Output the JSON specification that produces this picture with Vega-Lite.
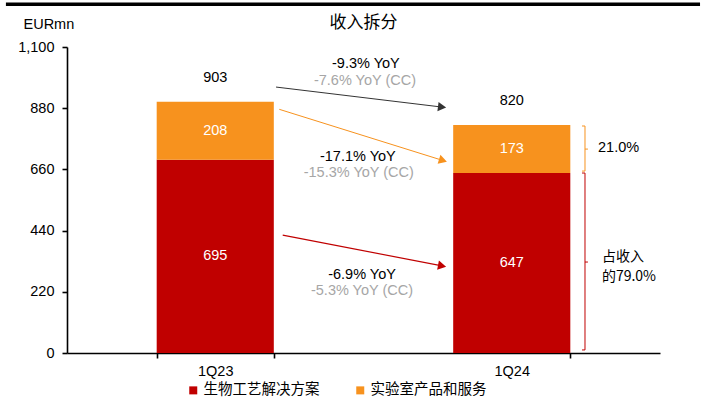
{
  "$schema": "https://vega.github.io/schema/vega-lite/v6.json",
  "width": 593,
  "height": 306,
  "autosize": {"type": "none"},
  "padding": {"left": 67, "top": 47, "right": 45, "bottom": 54},
  "title": {"text": "收入拆分", "font": "Noto Sans CJK SC", "fontSize": 17, "fontWeight": "normal", "color": "black", "anchor": "middle", "frame": "group", "offset": -30},
  "config": {
    "view": {"stroke": null},
    "font": "Liberation Sans",
    "axis": {"domainColor": "#000000", "domainWidth": 1.6, "tickColor": "#000000", "tickWidth": 1.6, "tickSize": 5, "labelColor": "#000000", "labelFontSize": 14.5, "labelFont": "Liberation Sans", "grid": false}
  },
  "datasets": {
    "main": [
      {"quarter": "1Q23", "segment": "生物工艺解决方案", "value": 695},
      {"quarter": "1Q23", "segment": "实验室产品和服务", "value": 208},
      {"quarter": "1Q24", "segment": "生物工艺解决方案", "value": 647},
      {"quarter": "1Q24", "segment": "实验室产品和服务", "value": 173}
    ],
    "arrows": [
      {"arrow": "total", "x1": 0.705, "y1": 956, "x2": 1.265, "y2": 884},
      {"arrow": "lab", "x1": 0.716, "y1": 876, "x2": 1.268, "y2": 692},
      {"arrow": "bio", "x1": 0.7275, "y1": 424, "x2": 1.265, "y2": 313}
    ],
    "notes": [
      {"label": "-9.3% YoY", "tone": "main", "x": 1.008, "y": 1039},
      {"label": "-7.6% YoY (CC)", "tone": "cc", "x": 1.005, "y": 979},
      {"label": "-17.1% YoY", "tone": "main", "x": 0.981, "y": 706},
      {"label": "-15.3% YoY (CC)", "tone": "cc", "x": 0.984, "y": 647},
      {"label": "-6.9% YoY", "tone": "main", "x": 0.995, "y": 280},
      {"label": "-5.3% YoY (CC)", "tone": "cc", "x": 0.995, "y": 223}
    ],
    "brackets": [
      {"b": "lab", "x1": 1.747, "y1": 816, "x2": 1.747, "y2": 654},
      {"b": "lab", "x1": 1.737, "y1": 816, "x2": 1.747, "y2": 816},
      {"b": "lab", "x1": 1.737, "y1": 654, "x2": 1.747, "y2": 654},
      {"b": "lab", "x1": 1.747, "y1": 733, "x2": 1.757, "y2": 733},
      {"b": "bio", "x1": 1.747, "y1": 647, "x2": 1.747, "y2": 11},
      {"b": "bio", "x1": 1.737, "y1": 647, "x2": 1.747, "y2": 647},
      {"b": "bio", "x1": 1.737, "y1": 11, "x2": 1.747, "y2": 11},
      {"b": "bio", "x1": 1.747, "y1": 327, "x2": 1.757, "y2": 327}
    ],
    "shares": [
      {"label": "21.0%", "font": "latin", "x": 1.791, "y": 737},
      {"label": "占收入", "font": "cjk", "x": 1.804, "y": 346},
      {"label": "的79.0%", "font": "cjk", "x": 1.804, "y": 274}
    ],
    "topline": [
      {"x1": -0.206, "x2": 2.135, "y": 1254}
    ]
  },
  "resolve": {"scale": {"x": "independent", "y": "independent"}},
  "layer": [
    {
      "data": {"name": "main"},
      "layer": [
        {
          "mark": {"type": "bar"},
          "encoding": {
            "x": {
              "field": "quarter", "type": "nominal",
              "scale": {"paddingInner": 0.605, "paddingOuter": 0.3025},
              "axis": {"title": null, "labelAngle": 0, "tickBand": "extent", "labelPadding": 6, "domainColor": "#000000", "tickColor": "#000000", "domainWidth": 1.6, "tickWidth": 1.6}
            },
            "y": {
              "field": "value", "type": "quantitative", "stack": "zero",
              "scale": {"domain": [0, 1100], "nice": false},
              "axis": {"values": [0, 220, 440, 660, 880, 1100], "format": ",.0f", "labelPadding": 8, "domainColor": "#000000", "tickColor": "#000000", "domainWidth": 1.6, "tickWidth": 1.6, "title": "EURmn", "titleAngle": 0, "titleX": -44, "titleY": -23, "titleAlign": "left", "titleBaseline": "middle", "titleFontSize": 14.5, "titleFontWeight": "normal", "titleColor": "black", "titleFont": "Liberation Sans"}
            },
            "color": {
              "field": "segment", "type": "nominal",
              "scale": {"domain": ["生物工艺解决方案", "实验室产品和服务"], "range": ["#C00000", "#F7921E"]},
              "legend": {"title": null, "orient": "none", "legendX": 119, "legendY": 336, "direction": "horizontal", "symbolType": "square", "symbolSize": 64, "symbolStrokeWidth": 0, "labelFont": "Noto Sans CJK SC", "labelFontSize": 14.5, "labelColor": "black", "labelOffset": 3, "columnPadding": 33}
            },
            "order": {"field": "segment", "sort": "descending"}
          }
        },
        {
          "transform": [
            {"stack": "value", "groupby": ["quarter"], "sort": [{"field": "segment", "order": "descending"}], "as": ["y0", "y1"]},
            {"fold": ["y0", "y1"], "as": ["k", "yv"]},
            {"aggregate": [{"op": "mean", "field": "yv", "as": "ymid"}], "groupby": ["quarter", "segment", "value"]}
          ],
          "mark": {"type": "text", "color": "white", "fontSize": 14.5, "baseline": "middle"},
          "encoding": {
            "x": {"field": "quarter", "type": "nominal", "axis": {"title": null, "labelAngle": 0, "tickBand": "extent", "labelPadding": 6, "domainColor": "#000000", "tickColor": "#000000", "domainWidth": 1.6, "tickWidth": 1.6}},
            "y": {"field": "ymid", "type": "quantitative", "scale": {"domain": [0, 1100], "nice": false}, "axis": {"values": [0, 220, 440, 660, 880, 1100], "format": ",.0f", "labelPadding": 8, "domainColor": "#000000", "tickColor": "#000000", "domainWidth": 1.6, "tickWidth": 1.6, "title": "EURmn", "titleAngle": 0, "titleX": -44, "titleY": -23, "titleAlign": "left", "titleBaseline": "middle", "titleFontSize": 14.5, "titleFontWeight": "normal", "titleColor": "black", "titleFont": "Liberation Sans"}},
            "text": {"field": "value", "type": "quantitative"}
          }
        },
        {
          "transform": [{"aggregate": [{"op": "sum", "field": "value", "as": "total"}], "groupby": ["quarter"]}],
          "mark": {"type": "text", "color": "black", "fontSize": 14.5, "baseline": "middle", "dy": -24},
          "encoding": {
            "x": {"field": "quarter", "type": "nominal", "axis": {"title": null, "labelAngle": 0, "tickBand": "extent", "labelPadding": 6, "domainColor": "#000000", "tickColor": "#000000", "domainWidth": 1.6, "tickWidth": 1.6}},
            "y": {"field": "total", "type": "quantitative", "scale": {"domain": [0, 1100], "nice": false}, "axis": {"values": [0, 220, 440, 660, 880, 1100], "format": ",.0f", "labelPadding": 8, "domainColor": "#000000", "tickColor": "#000000", "domainWidth": 1.6, "tickWidth": 1.6, "title": "EURmn", "titleAngle": 0, "titleX": -44, "titleY": -23, "titleAlign": "left", "titleBaseline": "middle", "titleFontSize": 14.5, "titleFontWeight": "normal", "titleColor": "black", "titleFont": "Liberation Sans"}},
            "text": {"field": "total", "type": "quantitative"}
          }
        }
      ]
    },
    {
      "layer": [
        {
          "data": {"name": "topline"},
          "mark": {"type": "rule", "color": "black", "strokeWidth": 3.5},
          "encoding": {
            "x": {"field": "x1", "type": "quantitative", "scale": {"domain": [0, 2], "nice": false, "zero": false}, "axis": null},
            "x2": {"field": "x2"},
            "y": {"field": "y", "type": "quantitative", "scale": {"domain": [0, 1100], "nice": false}, "axis": null}
          }
        },
        {
          "data": {"name": "arrows"},
          "transform": [{"filter": "datum.arrow === 'total'"}],
          "mark": {"type": "rule", "color": "#333333", "strokeWidth": 1},
          "encoding": {
            "x": {"field": "x1", "type": "quantitative", "scale": {"domain": [0, 2], "nice": false, "zero": false}, "axis": null},
            "y": {"field": "y1", "type": "quantitative", "scale": {"domain": [0, 1100], "nice": false}, "axis": null},
            "x2": {"field": "x2"},
            "y2": {"field": "y2"}
          }
        },
        {
          "data": {"name": "arrows"},
          "transform": [{"filter": "datum.arrow === 'total'"}],
          "mark": {"type": "point", "shape": "triangle-right", "filled": true, "color": "#333333", "opacity": 1, "size": 90, "angle": 7},
          "encoding": {
            "x": {"field": "x2", "type": "quantitative", "scale": {"domain": [0, 2], "nice": false, "zero": false}, "axis": null},
            "y": {"field": "y2", "type": "quantitative", "scale": {"domain": [0, 1100], "nice": false}, "axis": null}
          }
        },
        {
          "data": {"name": "arrows"},
          "transform": [{"filter": "datum.arrow === 'lab'"}],
          "mark": {"type": "rule", "color": "#F7921E", "strokeWidth": 1},
          "encoding": {
            "x": {"field": "x1", "type": "quantitative", "scale": {"domain": [0, 2], "nice": false, "zero": false}, "axis": null},
            "y": {"field": "y1", "type": "quantitative", "scale": {"domain": [0, 1100], "nice": false}, "axis": null},
            "x2": {"field": "x2"},
            "y2": {"field": "y2"}
          }
        },
        {
          "data": {"name": "arrows"},
          "transform": [{"filter": "datum.arrow === 'lab'"}],
          "mark": {"type": "point", "shape": "triangle-right", "filled": true, "color": "#F7921E", "opacity": 1, "size": 90, "angle": 17},
          "encoding": {
            "x": {"field": "x2", "type": "quantitative", "scale": {"domain": [0, 2], "nice": false, "zero": false}, "axis": null},
            "y": {"field": "y2", "type": "quantitative", "scale": {"domain": [0, 1100], "nice": false}, "axis": null}
          }
        },
        {
          "data": {"name": "arrows"},
          "transform": [{"filter": "datum.arrow === 'bio'"}],
          "mark": {"type": "rule", "color": "#C00000", "strokeWidth": 1.2},
          "encoding": {
            "x": {"field": "x1", "type": "quantitative", "scale": {"domain": [0, 2], "nice": false, "zero": false}, "axis": null},
            "y": {"field": "y1", "type": "quantitative", "scale": {"domain": [0, 1100], "nice": false}, "axis": null},
            "x2": {"field": "x2"},
            "y2": {"field": "y2"}
          }
        },
        {
          "data": {"name": "arrows"},
          "transform": [{"filter": "datum.arrow === 'bio'"}],
          "mark": {"type": "point", "shape": "triangle-right", "filled": true, "color": "#C00000", "opacity": 1, "size": 90, "angle": 11},
          "encoding": {
            "x": {"field": "x2", "type": "quantitative", "scale": {"domain": [0, 2], "nice": false, "zero": false}, "axis": null},
            "y": {"field": "y2", "type": "quantitative", "scale": {"domain": [0, 1100], "nice": false}, "axis": null}
          }
        },
        {
          "data": {"name": "notes"},
          "transform": [{"filter": "datum.tone === 'main'"}],
          "mark": {"type": "text", "color": "black", "fontSize": 14.5, "baseline": "middle"},
          "encoding": {
            "x": {"field": "x", "type": "quantitative", "scale": {"domain": [0, 2], "nice": false, "zero": false}, "axis": null},
            "y": {"field": "y", "type": "quantitative", "scale": {"domain": [0, 1100], "nice": false}, "axis": null},
            "text": {"field": "label", "type": "nominal"}
          }
        },
        {
          "data": {"name": "notes"},
          "transform": [{"filter": "datum.tone === 'cc'"}],
          "mark": {"type": "text", "color": "#A6A6A6", "fontSize": 14.5, "baseline": "middle"},
          "encoding": {
            "x": {"field": "x", "type": "quantitative", "scale": {"domain": [0, 2], "nice": false, "zero": false}, "axis": null},
            "y": {"field": "y", "type": "quantitative", "scale": {"domain": [0, 1100], "nice": false}, "axis": null},
            "text": {"field": "label", "type": "nominal"}
          }
        },
        {
          "data": {"name": "brackets"},
          "transform": [{"filter": "datum.b === 'lab'"}],
          "mark": {"type": "rule", "color": "#F7921E", "strokeWidth": 1},
          "encoding": {
            "x": {"field": "x1", "type": "quantitative", "scale": {"domain": [0, 2], "nice": false, "zero": false}, "axis": null},
            "y": {"field": "y1", "type": "quantitative", "scale": {"domain": [0, 1100], "nice": false}, "axis": null},
            "x2": {"field": "x2"},
            "y2": {"field": "y2"}
          }
        },
        {
          "data": {"name": "brackets"},
          "transform": [{"filter": "datum.b === 'bio'"}],
          "mark": {"type": "rule", "color": "#C00000", "strokeWidth": 1},
          "encoding": {
            "x": {"field": "x1", "type": "quantitative", "scale": {"domain": [0, 2], "nice": false, "zero": false}, "axis": null},
            "y": {"field": "y1", "type": "quantitative", "scale": {"domain": [0, 1100], "nice": false}, "axis": null},
            "x2": {"field": "x2"},
            "y2": {"field": "y2"}
          }
        },
        {
          "data": {"name": "shares"},
          "transform": [{"filter": "datum.font === 'latin'"}],
          "mark": {"type": "text", "color": "black", "fontSize": 14.5, "baseline": "middle", "align": "left"},
          "encoding": {
            "x": {"field": "x", "type": "quantitative", "scale": {"domain": [0, 2], "nice": false, "zero": false}, "axis": null},
            "y": {"field": "y", "type": "quantitative", "scale": {"domain": [0, 1100], "nice": false}, "axis": null},
            "text": {"field": "label", "type": "nominal"}
          }
        },
        {
          "data": {"name": "shares"},
          "transform": [{"filter": "datum.font === 'cjk'"}],
          "mark": {"type": "text", "color": "black", "fontSize": 14, "baseline": "middle", "align": "left", "font": "Noto Sans CJK SC"},
          "encoding": {
            "x": {"field": "x", "type": "quantitative", "scale": {"domain": [0, 2], "nice": false, "zero": false}, "axis": null},
            "y": {"field": "y", "type": "quantitative", "scale": {"domain": [0, 1100], "nice": false}, "axis": null},
            "text": {"field": "label", "type": "nominal"}
          }
        }
      ]
    }
  ]
}
